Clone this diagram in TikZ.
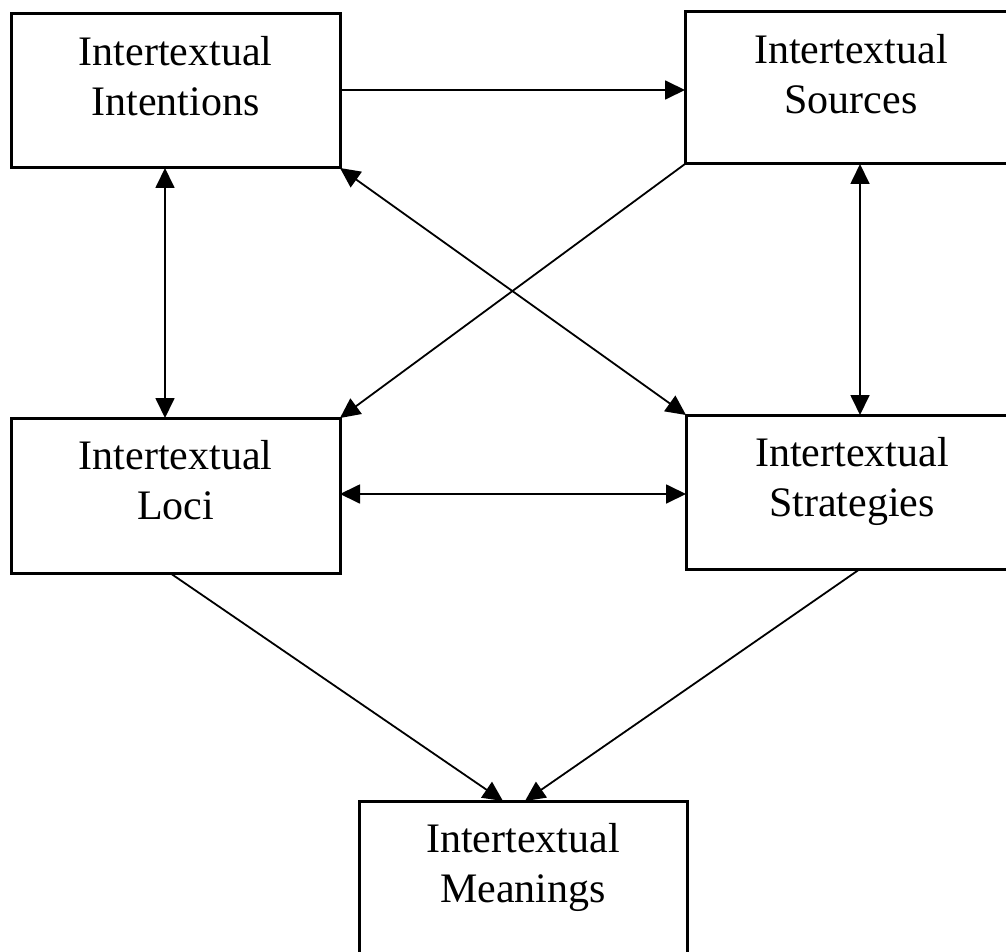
\documentclass[tikz,border=0pt]{standalone}
\usepackage{fontspec}
\setmainfont{Liberation Serif}
\usetikzlibrary{arrows.meta}
\begin{document}
\begin{tikzpicture}[x=1pt,y=-1pt,
  box/.style={draw,line width=3pt,outer sep=0pt,inner sep=0pt,anchor=north west},
  lbl/.style={inner sep=0pt,align=center,anchor=north,font=\fontsize{42}{50}\selectfont},
  conn/.style={line width=1.8pt,-{Triangle[length=20pt,width=19pt]}},
  biconn/.style={line width=1.8pt,{Triangle[length=20pt,width=19pt]}-{Triangle[length=20pt,width=19pt]}}]
\useasboundingbox (0,0) rectangle (1006,952);
\fill[white] (0,0) rectangle (1006,952);
% boxes
\node[box,minimum width=329pt,minimum height=154pt] (I) at (11,14) {};
\node[box,minimum width=332pt,minimum height=152pt] (S) at (685,12) {};
\node[box,minimum width=329pt,minimum height=155pt] (L) at (11,418) {};
\node[box,minimum width=332pt,minimum height=154pt] (T) at (686,415) {};
\node[box,minimum width=328pt,minimum height=160pt] (M) at (359,801) {};
% labels
\node[lbl] (It) at ([yshift=-22.5pt]I.north) {Intertextual\\Intentions};
\node[lbl] (St) at ([yshift=-22.5pt]S.north) {Intertextual\\Sources};
\node[lbl] (Lt) at ([yshift=-22.5pt]L.north) {Intertextual\\Loci};
\node[lbl] (Tt) at ([yshift=-22.5pt]T.north) {Intertextual\\Strategies};
\node[lbl] (Mt) at ([yshift=-22.5pt]M.north) {Intertextual\\Meanings};
% connectors
\draw[conn] (I.east |- 0,90) -- (S.west |- 0,90);
\draw[biconn] (165,0 |- I.south) -- (165,0 |- L.north);
\draw[biconn] (860,0 |- S.south) -- (860,0 |- T.north);
\draw[biconn] (I.south east) -- (T.north west);
\draw[conn] (S.south west) -- (L.north east);
\draw[biconn] (L.east |- 0,494) -- (T.west |- 0,494);
\draw[conn] (170,0 |- L.south) -- (503,0 |- M.north);
\draw[conn] (860,0 |- T.south) -- (525,0 |- M.north);
\end{tikzpicture}
\end{document}
